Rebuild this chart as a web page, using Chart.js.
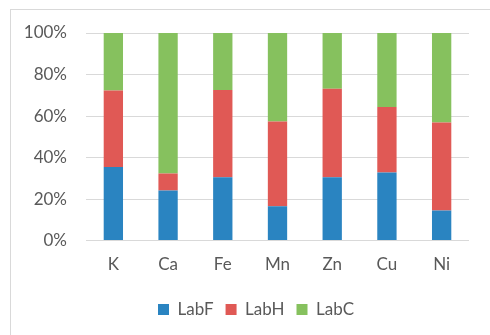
<!DOCTYPE html>
<html>
<head>
<meta charset="utf-8">
<script src="https://cdn.jsdelivr.net/npm/chart.js@4/dist/chart.umd.min.js"></script>
<style>
  html, body { margin: 0; padding: 0; background: #fff; overflow: hidden; }
  #wrap { position: relative; width: 490px; height: 335px; }
  #frame { position: absolute; left: 10px; top: 9px; width: 600px; height: 600px;
           border: 1px solid #d9d9d9; box-sizing: border-box; }
  canvas { position: absolute; left: 0; top: 0; }
</style>
</head>
<body>
<div id="wrap">
  <div id="frame"></div>
  <canvas id="c" width="490" height="335"></canvas>
</div>
<script>
// Elements on the horizontal axis
const categories = ['K', 'Ca', 'Fe', 'Mn', 'Zn', 'Cu', 'Ni'];

// Share of each lab per element (%), stacked to 100
const labF = [35.5, 24.1, 30.5, 16.6, 30.5, 32.8, 14.5];
const labH = [36.8,  8.2, 42.0, 40.8, 42.7, 31.5, 42.4];
const labC = [27.7, 67.7, 27.5, 42.6, 26.8, 35.7, 43.1];

// Percentage ticks on the vertical axis
const yTicks = [0, 20, 40, 60, 80, 100];

const textColor = '#595959';
const gridColor = '#d9d9d9';
const font = { family: 'Lato, "Open Sans", sans-serif', size: 17 };

// Horizontal centre of the legend row, in canvas pixels
const LEGEND_CENTER_X = 256;

const legendShift = {
  id: 'legendShift',
  afterLayout(chart) {
    const lg = chart.legend;
    if (!lg) return;
    const dx = LEGEND_CENTER_X - (lg.left + lg.right) / 2;
    lg.left += dx;
    lg.right += dx;
  }
};

new Chart(document.getElementById('c'), {
  type: 'bar',
  data: {
    labels: categories,
    datasets: [
      { label: 'LabF', data: labF, backgroundColor: '#2a84c1' },
      { label: 'LabH', data: labH, backgroundColor: '#e05955' },
      { label: 'LabC', data: labC, backgroundColor: '#86c15e' }
    ]
  },
  options: {
    responsive: false,
    animation: false,
    layout: { padding: { left: 20, right: 21, top: 33, bottom: 7 } },
    datasets: { bar: { categoryPercentage: 1, barPercentage: 0.353 } },
    plugins: {
      legend: {
        position: 'bottom',
        labels: {
          color: textColor, font: font,
          boxWidth: 11, boxHeight: 11, padding: 12
        }
      },
      tooltip: { enabled: false }
    },
    scales: {
      x: {
        stacked: true,
        grid: { display: false, drawTicks: false },
        border: { display: false },
        ticks: { color: textColor, font: font, padding: 14 }
      },
      y: {
        stacked: true,
        min: 0, max: 100,
        afterBuildTicks: s => { s.ticks = yTicks.map(v => ({ value: v })); },
        afterFit: s => { s.width = 66; },
        grid: { color: gridColor, lineWidth: 1, drawTicks: false },
        border: { display: false },
        ticks: {
          color: textColor, font: font, padding: 19,
          callback: v => v + '%'
        }
      }
    }
  },
  plugins: [legendShift]
});
</script>
</body>
</html>
